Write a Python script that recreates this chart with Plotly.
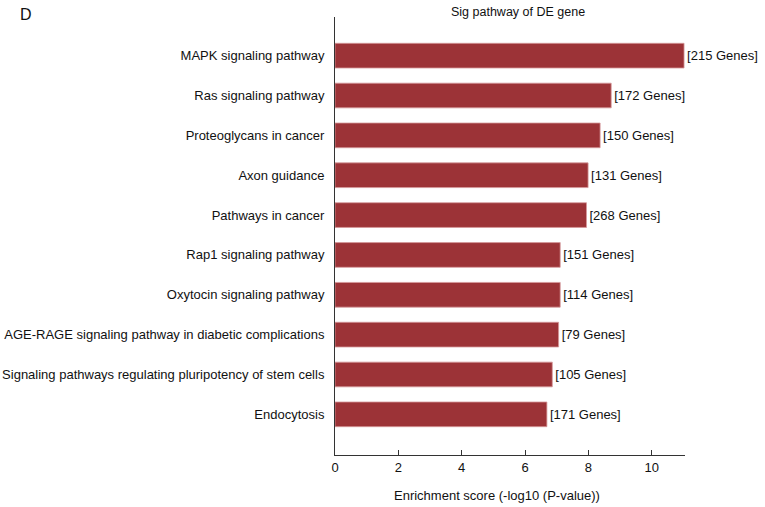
import plotly.graph_objects as go

pathways = [
    "MAPK signaling pathway",
    "Ras signaling pathway",
    "Proteoglycans in cancer",
    "Axon guidance",
    "Pathways in cancer",
    "Rap1 signaling pathway",
    "Oxytocin signaling pathway",
    "AGE-RAGE signaling pathway in diabetic complications",
    "Signaling pathways regulating pluripotency of stem cells",
    "Endocytosis",
]
scores = [11.02, 8.72, 8.37, 7.99, 7.94, 7.11, 7.11, 7.06, 6.86, 6.69]
gene_counts = [215, 172, 150, 131, 268, 151, 114, 79, 105, 171]
labels = ["[%d Genes]" % g for g in gene_counts]
x_ticks = [0, 2, 4, 6, 8, 10]

FONT = "Liberation Sans, Arial, Helvetica, sans-serif"

fig = go.Figure(go.Bar(
    x=scores,
    y=pathways,
    orientation="h",
    width=0.62,
    marker=dict(color="#9c3337", line=dict(color="#d6999b", width=0.8)),
    text=labels,
    textposition="outside",
    textfont=dict(family=FONT, size=13, color="#111111"),
    cliponaxis=False,
    constraintext="none",
    hoverinfo="x+y",
))

fig.update_layout(
    width=765, height=507,
    margin=dict(l=335, r=80, t=17, b=52, autoexpand=False),
    paper_bgcolor="white", plot_bgcolor="white",
    showlegend=False,
    font=dict(family=FONT, size=13, color="#111111"),
    xaxis=dict(
        range=[0, 11.05],
        tickvals=x_ticks,
        ticktext=[str(t) for t in x_ticks],
        ticks="inside", ticklen=5, tickcolor="#333333", tickwidth=1,
        showline=True, linecolor="#333333", linewidth=1,
        showgrid=False, zeroline=False, automargin=False,
        tickfont=dict(size=13),
    ),
    yaxis=dict(
        type="category",
        categoryorder="array",
        categoryarray=pathways,
        range=[10.02, -0.97],
        ticks="", showline=True, linecolor="#333333", linewidth=1,
        showgrid=False, zeroline=False, automargin=False,
        ticklabelstandoff=7,
        tickfont=dict(size=13),
    ),
    annotations=[
        dict(text="Sig pathway of DE gene", xref="paper", yref="paper",
             x=0.522, y=1.012, xanchor="center", yanchor="middle",
             showarrow=False, font=dict(size=12.5)),
        dict(text="Enrichment score (-log10 (P-value))", xref="paper", yref="paper",
             x=0.462, y=-0.093, xanchor="center", yanchor="middle",
             showarrow=False, font=dict(size=13)),
        dict(text="D", xref="paper", yref="paper",
             x=-0.906, y=1.005, xanchor="left", yanchor="middle",
             showarrow=False, font=dict(size=16)),
    ],
)

fig.write_html("out.html", config={"displayModeBar": False},
               post_script="document.body.style.margin='0';document.body.style.overflow='hidden';")
